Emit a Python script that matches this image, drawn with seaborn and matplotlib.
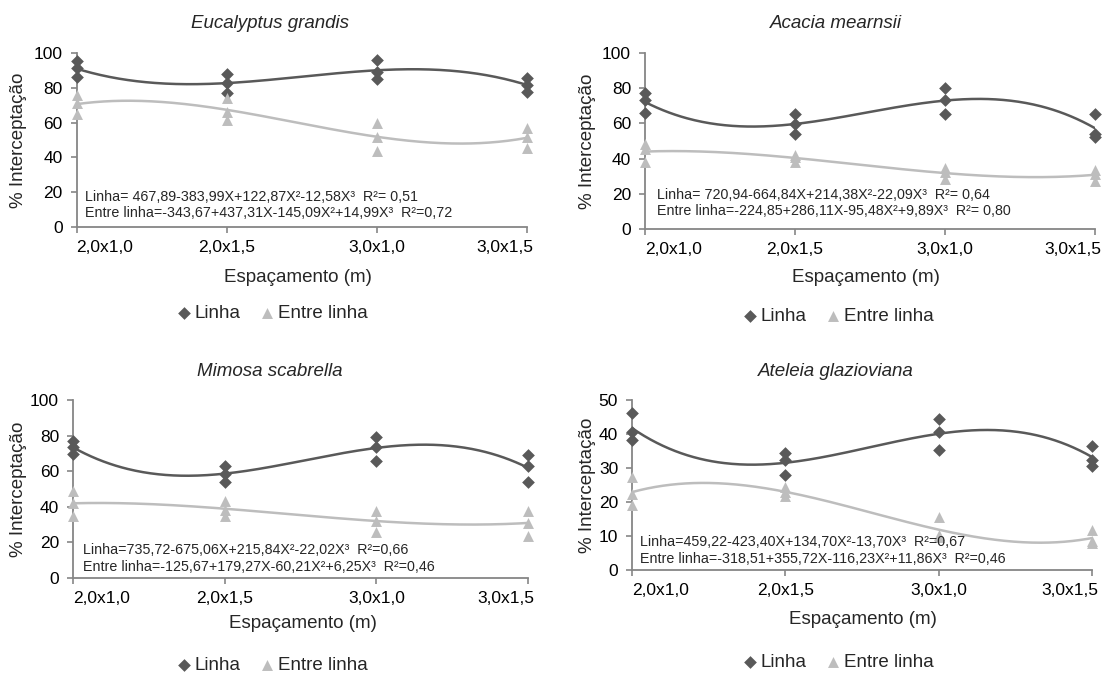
import numpy as np
import pandas as pd
import matplotlib
matplotlib.use("Agg")
import matplotlib.pyplot as plt
import matplotlib.transforms as mtransforms
import seaborn as sns

# ---------------- data ----------------
spacings = ["2,0x1,0", "2,0x1,5", "3,0x1,0", "3,0x1,5"]
species = ["Eucalyptus grandis", "Acacia mearnsii", "Mimosa scabrella", "Ateleia glazioviana"]

euc_linha = [[95.3, 91.5, 86.3], [88.0, 82.9, 77.2], [96.0, 89.3, 84.9], [85.8, 81.4, 77.6]]
euc_entre = [[75.7, 71.2, 64.9], [74.4, 66.2, 61.5], [60.0, 51.9, 43.7], [56.9, 51.7, 45.2]]

aca_linha = [[77.1, 73.3, 66.1], [65.5, 59.4, 54.1], [80.3, 73.1, 65.5], [65.5, 54.1, 52.2]]
aca_entre = [[48.5, 45.5, 38.0], [42.3, 40.8, 38.0], [34.5, 32.3, 28.5], [33.6, 31.3, 27.5]]

mim_linha = [[77.0, 73.8, 69.4], [63.2, 58.7, 54.0], [79.4, 73.8, 66.0], [68.9, 62.8, 54.0]]
mim_entre = [[48.7, 42.1, 35.1], [43.4, 38.3, 35.1], [37.9, 32.1, 26.0], [37.9, 31.1, 23.8]]

ate_linha = [[46.3, 40.7, 38.2], [34.3, 32.4, 27.9], [44.4, 40.5, 35.3], [36.6, 32.4, 30.7]]
ate_entre = [[27.3, 22.3, 19.1], [24.3, 22.8, 21.9], [15.5, 10.3, 9.8], [11.8, 8.6, 7.8]]

eq_linha = ["Linha= 467,89-383,99X+122,87X\u00b2-12,58X\u00b3  R\u00b2= 0,51",
            "Linha= 720,94-664,84X+214,38X\u00b2-22,09X\u00b3  R\u00b2= 0,64",
            "Linha=735,72-675,06X+215,84X\u00b2-22,02X\u00b3  R\u00b2=0,66",
            "Linha=459,22-423,40X+134,70X\u00b2-13,70X\u00b3  R\u00b2=0,67"]
eq_entre = ["Entre linha=-343,67+437,31X-145,09X\u00b2+14,99X\u00b3  R\u00b2=0,72",
            "Entre linha=-224,85+286,11X-95,48X\u00b2+9,89X\u00b3  R\u00b2= 0,80",
            "Entre linha=-125,67+179,27X-60,21X\u00b2+6,25X\u00b3  R\u00b2=0,46",
            "Entre linha=-318,51+355,72X-116,23X\u00b2+11,86X\u00b3  R\u00b2=0,46"]

ymax_list = [100, 100, 100, 50]
ystep_list = [20, 20, 20, 10]

linha_sets = [euc_linha, aca_linha, mim_linha, ate_linha]
entre_sets = [euc_entre, aca_entre, mim_entre, ate_entre]

# ---------------- style ----------------
sns.set_style("white")
plt.rcParams["font.family"] = ["Liberation Sans", "DejaVu Sans"]

W, H = 1103, 673
DPI = 100
fig = plt.figure(figsize=(W / DPI, H / DPI), dpi=DPI)

DARK = "#595959"
LIGHT = "#bdbdbd"
AXC = "#868686"

# layout in pixels: (left, right, top, bottom)
boxes = [(76.5, 527, 53, 227), (645, 1095, 53, 229), (73, 528, 400, 578), (632, 1092, 400, 570)]
title_pos = [(270, 23), (836, 23), (270, 372), (836, 372)]
ylab_pos = [(19, 140), (587, 141), (19, 489), (587, 485)]
xlab_pos = [(298, 277), (866, 277), (303, 623), (863, 620)]
leg_pos = [(272, 313), (838, 316), (272, 665), (838, 662)]
eq_pos = [(85, 197, 213), (657, 195, 211), (83, 550, 567), (640, 542, 559)]


def fx(x):
    return x / W


def fy(y):
    return 1 - y / H


def long_df(vals, name):
    rows = []
    for i, reps in enumerate(vals):
        for v in reps:
            rows.append({"pos": i, "value": v, "serie": name})
    return pd.DataFrame(rows)


for k in range(4):
    l, r, t, b = boxes[k]
    ax = fig.add_axes([fx(l), fy(b), (r - l) / W, (b - t) / H])
    dl = long_df(linha_sets[k], "Linha")
    de = long_df(entre_sets[k], "Entre linha")

    grid = np.linspace(0, 3, 300)
    for d, col in ((dl, DARK), (de, LIGHT)):
        coef = np.polyfit(d["pos"], d["value"], 3)
        sns.lineplot(x=grid, y=np.polyval(coef, grid), ax=ax, color=col,
                     lw=1.8, estimator=None, sort=False, zorder=2)

    sns.scatterplot(data=dl, x="pos", y="value", ax=ax, marker="D", s=42,
                    color=DARK, linewidth=0, label="Linha", zorder=3, clip_on=False)
    sns.scatterplot(data=de, x="pos", y="value", ax=ax, marker="^", s=62,
                    color=LIGHT, linewidth=0, label="Entre linha", zorder=3, clip_on=False)

    handles, labels = ax.get_legend_handles_labels()
    if ax.get_legend() is not None:
        ax.get_legend().remove()

    ax.set_xlim(0, 3)
    ax.set_ylim(0, ymax_list[k])
    ax.set_yticks(np.arange(0, ymax_list[k] + 1, ystep_list[k]))
    ax.set_xticks(range(4))
    ax.set_xticklabels(spacings)
    ax.set_xlabel("")
    ax.set_ylabel("")
    for s in ("top", "right"):
        ax.spines[s].set_visible(False)
    for s in ("left", "bottom"):
        ax.spines[s].set_color(AXC)
        ax.spines[s].set_linewidth(1.3)
    ax.tick_params(axis="y", direction="out", length=4, width=1.2, color=AXC,
                   pad=6, labelsize=12.5, labelcolor="black", left=True)
    ax.tick_params(axis="x", direction="out", length=4, width=1.2, color=AXC,
                   pad=5.5, labelsize=12.5, labelcolor="black", bottom=True)
    tl = ax.get_xticklabels()
    tl[0].set_horizontalalignment("left")
    tl[-1].set_horizontalalignment("right")
    tl[-1].set_transform(tl[-1].get_transform() +
                         mtransforms.ScaledTranslation(6 / DPI, 0, fig.dpi_scale_trans))

    # texts
    tx, ty = title_pos[k]
    fig.text(fx(tx), fy(ty), species[k], ha="center", va="center",
             fontsize=13.5, style="italic")
    yx, yy = ylab_pos[k]
    fig.text(fx(yx), fy(yy), "% Interceptação", ha="center", va="center",
             rotation=90, fontsize=13.5)
    xx, xy = xlab_pos[k]
    fig.text(fx(xx), fy(xy), "Espaçamento (m)", ha="center", va="center",
             fontsize=13.5)
    ex, ey1, ey2 = eq_pos[k]
    fig.text(fx(ex), fy(ey1), eq_linha[k], ha="left", va="center", fontsize=10.3)
    fig.text(fx(ex), fy(ey2), eq_entre[k], ha="left", va="center", fontsize=10.3)

    lx, ly = leg_pos[k]
    fig.legend(handles, labels, loc="center", bbox_to_anchor=(fx(lx), fy(ly)),
               ncol=2, frameon=False, fontsize=13.5, handlelength=0.8,
               handletextpad=0.2, columnspacing=1.0, borderpad=0,
               borderaxespad=0)

fig.savefig("out.png", dpi=DPI)
